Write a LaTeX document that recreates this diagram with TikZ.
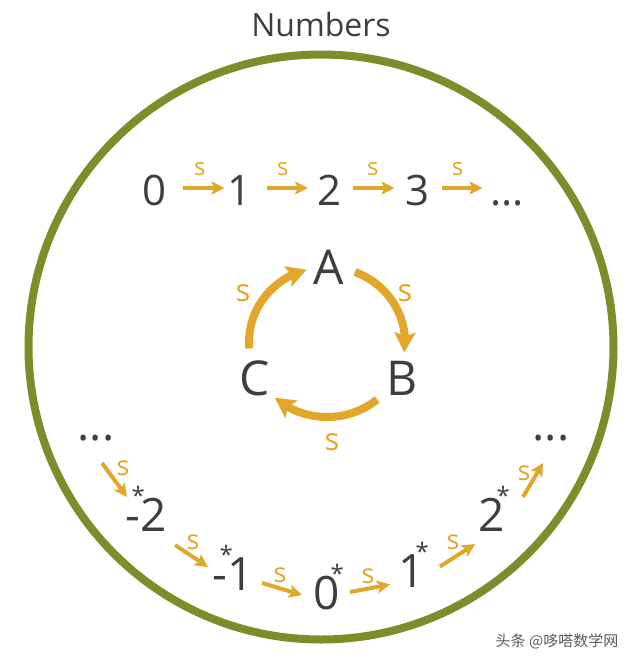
\documentclass[tikz,border=0pt]{standalone}
\usepackage{fontspec}
\setmainfont{Open Sans}
\newfontfamily\cjk{Noto Sans CJK SC}
\usetikzlibrary{arrows.meta,bending}
\definecolor{ringgreen}{RGB}{128,139,42}
\definecolor{sorange}{RGB}{226,166,40}
\definecolor{numgray}{RGB}{62,62,66}
\definecolor{markgray}{RGB}{90,90,90}
\newcommand\fsz[1]{\fontsize{#1}{#1}\selectfont}
\newcommand\sstar{\makebox[0pt]{\smash{\raisebox{27pt}{\fsz{24}*}}}}
\begin{document}
\begin{tikzpicture}[x=1pt,y=-1pt,
  num/.style={text=numgray,inner sep=0pt,font=\fsz{42}},
  toprow/.style={num,text height=30pt,text depth=0pt},
  lowrow/.style={num,font=\fsz{46}},
  letter/.style={num,font=\fsz{48}},
  slabel/.style={text=sorange,inner sep=0pt,font=\fsz{24}},
  cycs/.style={slabel,font=\fsz{31}},
  sarrow/.style={draw=sorange,line width=4pt,-{Stealth[length=13pt,width=13pt,inset=3pt]}},
  cycarrow/.style={draw=sorange,line width=8pt,-{Stealth[length=20pt,width=21pt,inset=4pt,flex]}}]
\useasboundingbox (0,0) rectangle (640,665);
\newcommand\topstep[5]{
\path[sarrow] ([shift={(#3,-2)}]#1.center) -- node[slabel,midway,shift={(#5,-19)}] {s} ([shift={(-#4,-2)}]#2.center);
}
\newcommand\lowstep[5]{
\path[sarrow] ([shift={(#3)}]#1.center) -- node[slabel,font=\fsz{27},midway,shift={(#5)}] {s} ([shift={(#4)}]#2.center);
}
\node[text=numgray,font=\fsz{32}] (title) at (321,24) {Numbers};
\node[draw=ringgreen,line width=8pt,circle,minimum size=585pt,inner sep=0pt] (world) at (321,347) {};
\node[toprow] (n0) at (155,190) {0};
\node[toprow] (n1) at (240,190) {1};
\node[toprow] (n2) at (330,190) {2};
\node[toprow] (n3) at (418,190) {3};
\node[toprow] (ntd) at (507,190) {...};
\topstep{n0}{n1}{28}{15.5}{-4}
\topstep{n1}{n2}{26.5}{22}{-4.5}
\topstep{n2}{n3}{23}{23.5}{-1}
\topstep{n3}{ntd}{23.5}{24.5}{-4.5}
\node[letter] (A) at (329,267) {A};
\node[letter] (B) at (402,378) {B};
\node[letter] (C) at (255,378) {C};
\coordinate (cyc) at (327,342);
\path[cycarrow] ([shift={(175:78 and 75)}]cyc) arc[start angle=175,end angle=255,x radius=78,y radius=75];
\path[cycarrow] ([shift={(291:78 and 75)}]cyc) arc[start angle=291,end angle=368,x radius=78,y radius=75];
\path[cycarrow] ([shift={(50:78 and 75)}]cyc) arc[start angle=50,end angle=132,x radius=78,y radius=75];
\node[cycs] (sCA) at (243,293) {s};
\node[cycs] (sAB) at (405,293) {s};
\node[cycs] (sBC) at (332,442) {s};
\node[lowrow] (ldots) at (96,438) {...};
\node[lowrow] (m2) at (146,515) {-\kern-2pt\sstar\kern2pt 2};
\node[lowrow] (m1) at (233,574) {-\kern-1pt\sstar\kern1pt 1};
\node[lowrow] (z0) at (327,593) {0\kern-3pt\sstar\kern3pt};
\node[lowrow] (p1) at (412,571) {1\kern-3pt\sstar\kern3pt};
\node[lowrow] (p2) at (492,515) {2\kern-2pt\sstar\kern2pt};
\node[lowrow] (rdots) at (551,438) {...};
\lowstep{ldots}{m2}{6,25}{-19,-18}{8.5,-12}
\lowstep{m2}{m1}{29,30}{-25,-7}{1.5,-14}
\lowstep{m1}{z0}{29,9}{-25,2}{-2,-14}
\lowstep{z0}{p1}{23,-1}{-22,13.5}{-2,-11.5}
\lowstep{p1}{p2}{28,-4.5}{-17,29}{-4.5,-12.5}
\lowstep{p2}{rdots}{31,-18}{-8,25}{-9,-7}
\node[text=markgray,font=\cjk\fsz{15}] (mark) at (557,641) {头条 @哆嗒数学网};
\end{tikzpicture}
\end{document}
